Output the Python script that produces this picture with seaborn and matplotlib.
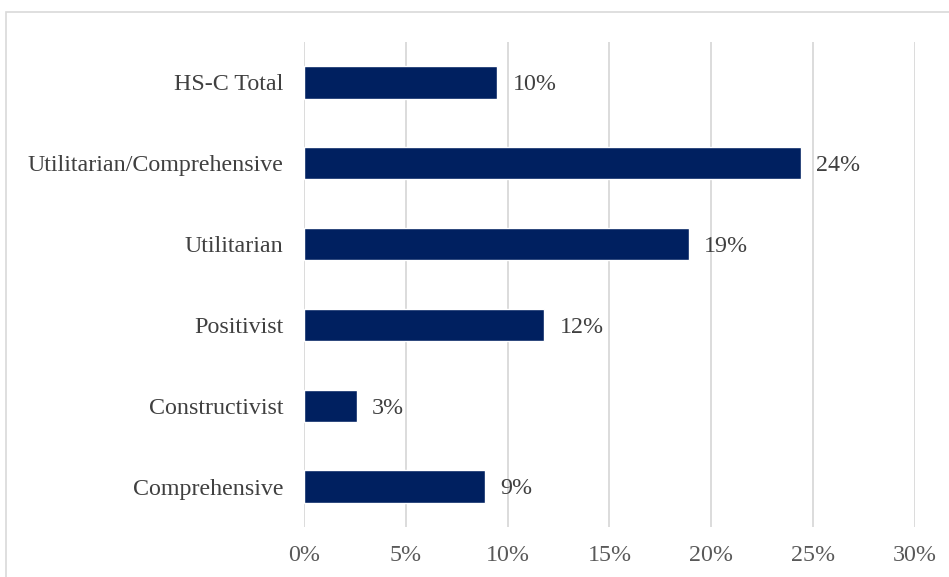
import pandas as pd
import seaborn as sns
import matplotlib.pyplot as plt
from matplotlib.patches import Rectangle
from matplotlib.ticker import FuncFormatter

# Categories top to bottom and their shares (%)
categories = ['HS-C Total', 'Utilitarian/Comprehensive', 'Utilitarian',
              'Positivist', 'Constructivist', 'Comprehensive']
shares = [9.5, 24.4, 18.9, 11.8, 2.6, 8.9]
x_ticks = [0, 5, 10, 15, 20, 25, 30]


def main():
    df = pd.DataFrame({'Category': categories, 'Share': shares})

    sns.set_style('white')
    plt.rcParams['font.family'] = ['Liberation Serif', 'DejaVu Serif']

    fig = plt.figure(figsize=(9.49, 5.77), dpi=100)
    ax = fig.add_axes([0.3203, 0.0867, 0.6439, 0.8405])

    sns.barplot(data=df, x='Share', y='Category', order=categories,
                color='#002060', saturation=1, width=0.4, orient='h',
                ax=ax, zorder=3)

    # Value labels next to bars
    for i, v in enumerate(shares):
        ax.text(v + 0.75, i + 0.03, f'{v:.0f}%', va='center', ha='left',
                fontsize=17.3, color='#404040')

    ax.set_xlim(0, 30)
    ax.set_ylim(5.5, -0.5)
    ax.set_xticks(x_ticks)
    ax.xaxis.set_major_formatter(FuncFormatter(lambda v, p: f'{v:.0f}%'))
    ax.grid(axis='x', color='#d9d9d9', linewidth=1.3, zorder=0)
    ax.set_xlabel('')
    ax.set_ylabel('')
    for s in ax.spines.values():
        s.set_visible(False)
    ax.tick_params(axis='x', labelsize=17.3, labelcolor='#595959', length=0, pad=13)
    ax.tick_params(axis='y', labelsize=17.3, labelcolor='#404040', length=0, pad=15)

    # Light chart border
    fig.patches.append(Rectangle((6 / 949, -0.05), 1.0, 1 - 12 / 577 + 0.05,
                                 transform=fig.transFigure, fill=False,
                                 edgecolor='#d9d9d9', linewidth=1.2))

    plt.savefig('out.png', dpi=100)
    plt.close()


if __name__ == "__main__":
    main()
